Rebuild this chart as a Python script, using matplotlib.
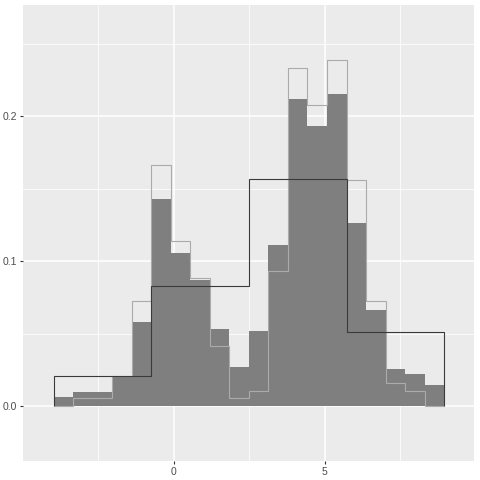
import numpy as np
import matplotlib
matplotlib.use("Agg")
import matplotlib.pyplot as plt

plt.rcParams["font.family"] = ["Liberation Sans", "DejaVu Sans"]

# Data range and bins
x_min, x_max = -3.96, 8.95
n_fine_bins = 20
n_coarse_bins = 4

# Filled histogram densities (20 bins)
fill_density = [0.0062, 0.0097, 0.0097, 0.0205, 0.0579, 0.1428, 0.1055, 0.0869,
                0.0531, 0.0269, 0.0517, 0.1110, 0.2117, 0.1931, 0.2152, 0.1262,
                0.0662, 0.0255, 0.0221, 0.0145]
# Light gray outline histogram densities (20 bins)
outline_density = [0.0000, 0.0053, 0.0053, 0.0205, 0.0722, 0.1660, 0.1136, 0.0881,
                   0.0412, 0.0053, 0.0103, 0.0931, 0.2329, 0.2074, 0.2384, 0.1556,
                   0.0722, 0.0159, 0.0103, 0.0000]
# Coarse black step histogram densities (4 bins)
coarse_density = [0.0205, 0.0825, 0.1563, 0.0508]

x_ticks = [0, 5]
x_tick_labels = ["0", "5"]
y_ticks = [0.0, 0.1, 0.2]
y_tick_labels = ["0.0", "0.1", "0.2"]

fine_edges = np.linspace(x_min, x_max, n_fine_bins + 1)
coarse_edges = np.linspace(x_min, x_max, n_coarse_bins + 1)

fig = plt.figure(figsize=(4.8, 4.8), dpi=100)
ax = fig.add_axes([23 / 480, 1 - 461 / 480, (474 - 23) / 480, (461 - 5) / 480])
ax.set_facecolor("#ebebeb")
for s in ax.spines.values():
    s.set_visible(False)

ax.set_xlim(-4.98, 9.94)
ax.set_ylim(-0.0379, 0.2766)

# grid
for v in [-2.5, 2.5, 7.5]:
    ax.axvline(v, color="white", lw=0.55, zorder=0)
for v in [0.05, 0.15, 0.25]:
    ax.axhline(v, color="white", lw=0.55, zorder=0)
for v in x_ticks:
    ax.axvline(v, color="white", lw=1.1, zorder=0)
for v in y_ticks:
    ax.axhline(v, color="white", lw=1.1, zorder=0)

ax.stairs(fill_density, fine_edges, fill=True, color="#7f7f7f", lw=0, zorder=2)
ax.stairs(outline_density, fine_edges, color="#ababab", lw=0.8, zorder=3,
          baseline=0)
ax.stairs(coarse_density, coarse_edges, color="#3a3a3a", lw=0.8, zorder=4,
          baseline=0)

ax.set_xticks(x_ticks)
ax.set_xticklabels(x_tick_labels)
ax.set_yticks(y_ticks)
ax.set_yticklabels(y_tick_labels)
ax.tick_params(axis="both", length=2.5, width=0.8, color="#333333",
               labelsize=7.5, labelcolor="#4d4d4d", pad=2)

fig.savefig("out.png", dpi=100)
